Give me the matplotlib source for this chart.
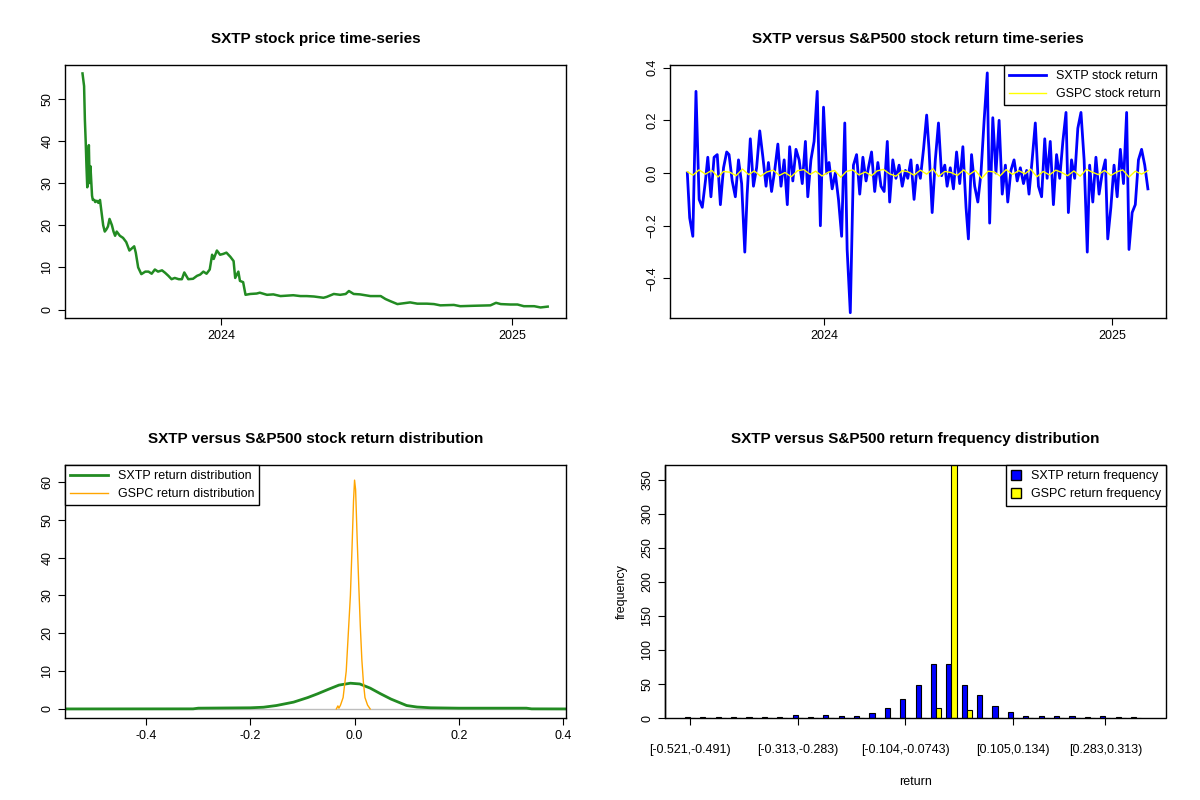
import numpy as np
import matplotlib
matplotlib.use("Agg")
import matplotlib.pyplot as plt
import matplotlib.dates as mdates
from matplotlib.patches import Patch
import datetime as dt

plt.rcParams['font.family'] = ['Liberation Sans', 'DejaVu Sans']

start = dt.date(2023, 7, 11)
end = dt.date(2025, 2, 15)

price_day = [0,2,3,4,5,6,8,9,10,12,13,15,16,18,20,22,24,26,28,30,32,34,37,39,41,43,47,51,55,59,62,65,67,70,74,79,83,87,91,95,100,104,108,112,116,121,125,128,133,139,144,148,152,156,160,163,165,169,173,177,181,186,190,192,196,198,202,205,211,219,223,232,240,249,257,265,274,282,291,303,307,316,324,331,335,341,349,362,375,381,387,396,404,412,421,433,442,450,467,475,492,513,520,526,538,547,555,568,576,585]
price = [56,53,45,40,34,29,39,30,34,27,26,26,25.5,25.8,25.3,26,23,20,18.5,19,19.7,21.5,20,18.5,17.5,18.5,17.5,17,16,14,14.5,15,13.5,10,8.4,9,9,8.5,9.5,9,9.3,8.7,8,7.2,7.5,7.2,7.2,8.8,7.2,7.3,8,8.3,9,8.5,9.5,13,12,14,13,13.2,13.5,12.5,11.5,7.5,9,6.8,6.5,3.5,3.7,3.8,4,3.5,3.6,3.2,3.3,3.4,3.2,3.2,3.1,2.8,3,3.7,3.5,3.7,4.4,3.7,3.6,3.2,3.2,2.5,2,1.3,1.5,1.7,1.4,1.4,1.3,1.0,1.1,0.8,0.9,1.0,1.6,1.3,1.2,1.2,0.8,0.8,0.5,0.7]

sxtp_ret = [0,-0.17,-0.24,0.31,-0.1,-0.13,-0.03,0.06,-0.09,0.06,0.07,-0.12,0.02,0.08,0.07,-0.03,-0.09,0.05,-0.04,-0.3,-0.08,0.13,-0.05,0.02,0.16,0.06,-0.05,0.04,-0.07,0.01,0.11,-0.05,0.05,-0.12,0.1,-0.03,0.09,0.05,-0.04,0.12,-0.09,0.05,0.12,0.31,-0.2,0.25,0.0,0.04,-0.06,0.0,-0.1,-0.24,0.19,-0.29,-0.53,0.03,0.07,-0.08,0.06,-0.03,0.02,0.08,-0.07,0.04,-0.05,-0.07,0.12,-0.11,0.05,-0.02,0.03,-0.05,0.01,-0.02,0.05,-0.1,0.03,-0.02,0.09,0.22,0.09,-0.15,0.05,0.19,-0.01,0.03,-0.05,0.02,-0.06,0.08,-0.04,0.1,-0.13,-0.25,0.07,-0.05,-0.11,0.0,0.2,0.38,-0.19,0.21,0.0,0.2,-0.08,0.03,-0.11,0.01,0.05,-0.03,0.02,-0.04,0.01,-0.08,0.05,0.19,-0.05,-0.09,0.13,-0.02,0.12,-0.12,0.07,-0.02,0.12,0.23,-0.15,0.05,-0.02,0.17,0.23,0.05,-0.3,0.03,-0.11,0.06,-0.08,0.0,0.05,-0.25,-0.13,0.03,-0.09,0.09,-0.04,0.23,-0.29,-0.15,-0.12,0.05,0.09,0.03,-0.06]
gspc_ret = [0.005,-0.008,0.012,-0.004,0.01,-0.015,0.006,0.003,-0.01,0.015,-0.006,0.008,-0.012,0.004,0.011,-0.009,0.002,-0.014,0.009,0.013,-0.005,0.007,-0.011,0.003,0.01,-0.016,0.006,0.012,-0.007,0.004,-0.01,0.008,0.014,-0.003,-0.012,0.009,0.005,-0.008,0.011,-0.004,0.016,-0.013,0.006,0.002,-0.009,0.012,-0.006,0.01,-0.02,0.007,0.004,-0.011,0.013,-0.005,0.009,-0.003,0.015,-0.014,0.006,-0.007,0.011,0.003,-0.01,0.008,-0.012,0.014,0.004,-0.006,0.01,-0.009,0.005,0.012,-0.015,0.007,-0.004,0.009]

dens_sxtp_x = [-0.556,-0.31,-0.30,-0.2,-0.175,-0.15,-0.117,-0.09,-0.071,-0.05,-0.03,-0.008,0.01,0.03,0.05,0.07,0.1,0.12,0.146,0.2,0.33,0.34,0.406]
dens_sxtp_y = [0.0,0.02,0.2,0.3,0.45,0.9,1.8,3.0,4.0,5.2,6.3,6.8,6.6,5.5,4.0,2.6,0.9,0.5,0.3,0.2,0.2,0.02,0.0]
dens_gspc_x = [-0.035,-0.032,-0.03,-0.027,-0.022,-0.016,-0.012,-0.008,-0.005,-0.002,0.0,0.002,0.005,0.008,0.011,0.014,0.017,0.02,0.025,0.03]
dens_gspc_y = [0,0.8,0.2,1,3,10,20,30,42,55,60.5,58,45,33,22,13,7,3,1,0]

hist_sxtp = [2,1,1,1,1,1,1,4,2,5,3,3,8,14,28,49,80,80,49,34,18,9,3,3,3,3,2,3,2,1]
hist_gspc = [0,0,0,0,0,0,0,0,0,0,0,0,0,0,0,0,15,400,12,0,0,0,0,0,0,0,0,0,0,0]
hist_label_idx = [0, 7, 14, 21, 27]
hist_labels = ['[-0.521,-0.491)', '[-0.313,-0.283)', '[-0.104,-0.0743)', '[0.105,0.134)', '[0.283,0.313)']

fig = plt.figure(figsize=(12, 8), dpi=100)
W, H = 1200, 800
def ax_at(l, t, r, b):
    return fig.add_axes([l / W, 1 - b / H, (r - l) / W, (b - t) / H])

def style(ax):
    for s in ax.spines.values():
        s.set_linewidth(1.0)
    ax.tick_params(direction='out', length=5, labelsize=9)
    for lab in ax.get_yticklabels():
        lab.set_rotation(90)
        lab.set_va('center')

def date_axis(ax):
    ax.set_xlim(dt.date(2023, 6, 19), dt.date(2025, 3, 10))
    ax.set_xticks([dt.date(2024, 1, 1), dt.date(2025, 1, 1)])
    ax.xaxis.set_major_formatter(mdates.DateFormatter('%Y'))

# Price
ax1 = ax_at(65, 65, 566, 318)
pdates = [start + dt.timedelta(days=d) for d in price_day]
ax1.plot(pdates, price, color='forestgreen', lw=1.8)
date_axis(ax1)
ax1.set_ylim(-2, 58)
ax1.set_yticks([0, 10, 20, 30, 40, 50])
ax1.set_title('SXTP stock price time-series', fontsize=11, fontweight='bold', pad=16)
style(ax1)

# Returns
ax2 = ax_at(670, 65, 1166, 318)
total = (end - start).days
rd = [start + dt.timedelta(days=float(x)) for x in np.linspace(0, total, len(sxtp_ret))]
gd = [start + dt.timedelta(days=float(x)) for x in np.linspace(0, total, len(gspc_ret))]
l1, = ax2.plot(rd, sxtp_ret, color='blue', lw=2)
l2, = ax2.plot(gd, gspc_ret, color='yellow', lw=1)
date_axis(ax2)
ax2.set_ylim(-0.55, 0.41)
ax2.set_yticks([-0.4, -0.2, 0.0, 0.2, 0.4])
ax2.set_title('SXTP versus S&P500 stock return time-series', fontsize=11, fontweight='bold', pad=16)
leg = ax2.legend([l1, l2], ['SXTP stock return', 'GSPC stock return'], loc='upper right',
                 fancybox=False, edgecolor='black', framealpha=1, fontsize=9, borderaxespad=0,
                 handlelength=3)
leg.get_frame().set_linewidth(1.0)
style(ax2)

# Density
ax3 = ax_at(65, 465, 566, 718)
ax3.axhline(0, color='#bebebe', lw=1)
d1, = ax3.plot(dens_sxtp_x, dens_sxtp_y, color='forestgreen', lw=2)
d2, = ax3.plot(dens_gspc_x, dens_gspc_y, color='orange', lw=1)
ax3.set_xlim(-0.556, 0.406)
ax3.set_ylim(-2.4, 64.5)
ax3.set_xticks([-0.4, -0.2, 0.0, 0.2, 0.4])
ax3.set_xticklabels(['-0.4', '-0.2', '0.0', '0.2', '0.4'])
ax3.set_yticks([0, 10, 20, 30, 40, 50, 60])
ax3.set_title('SXTP versus S&P500 stock return distribution', fontsize=11, fontweight='bold', pad=16)
leg = ax3.legend([d1, d2], ['SXTP return distribution', 'GSPC return distribution'], loc='upper left',
                 fancybox=False, edgecolor='black', framealpha=1, fontsize=9, borderaxespad=0,
                 handlelength=3)
leg.get_frame().set_linewidth(1.0)
style(ax3)

# Histogram
ax4 = ax_at(665, 465, 1166, 718)
g = np.arange(len(hist_sxtp))
bw = 1 / 3
ax4.bar(g - bw / 2, hist_sxtp, width=bw, color='blue', edgecolor='black', lw=0.8)
ax4.bar(g + bw / 2, hist_gspc, width=bw, color='yellow', edgecolor='black', lw=0.8)
ax4.set_xlim(-1.63, len(g) + 0.95)
ax4.set_ylim(0, 372)
ax4.set_yticks([0, 50, 100, 150, 200, 250, 300, 350])
ax4.set_xticks([g[i] for i in hist_label_idx])
ax4.set_xticklabels(hist_labels)
ax4.tick_params(axis='x', length=0, pad=14)
ax4.spines['bottom'].set_visible(False)
ax4.spines['top'].set_visible(False)
ax4.spines['right'].set_visible(False)
ax4.set_xlabel('return', fontsize=9, labelpad=14)
ax4.set_ylabel('frequency', fontsize=9, labelpad=10)
ax4.set_title('SXTP versus S&P500 return frequency distribution', fontsize=11, fontweight='bold', pad=16)
ax4.add_patch(plt.Rectangle((0, 0), 1, 1, transform=ax4.transAxes, fill=False, lw=1.0, clip_on=False))
leg = ax4.legend([Patch(facecolor='blue', edgecolor='black'), Patch(facecolor='yellow', edgecolor='black')],
                 ['SXTP return frequency', 'GSPC return frequency'], loc='upper right',
                 fancybox=False, edgecolor='black', framealpha=1, fontsize=9, borderaxespad=0,
                 handlelength=0.8, handleheight=0.8)
leg.get_frame().set_linewidth(1.0)
style(ax4)

fig.savefig('out.png', dpi=100)
